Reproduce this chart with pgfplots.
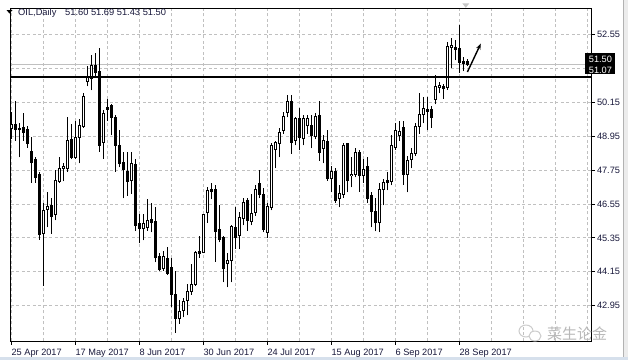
\documentclass[border=0pt]{standalone}
\usepackage{pgfplots}
\pgfplotsset{compat=1.18}
\usepackage{pgfplotstable}
\usepackage{fontspec}
\setmainfont{Liberation Sans}
\newfontfamily\cjk{Noto Sans CJK SC}
\usetikzlibrary{arrows.meta}
\pgfdeclarelayer{bg}
\pgfsetlayers{bg,main}
\definecolor{gridc}{RGB}{192,192,192}
\definecolor{lab}{RGB}{25,25,60}
\definecolor{framegray}{RGB}{236,236,236}
\definecolor{frameblue}{RGB}{214,224,236}

% bullish (white) candles: index, open, high, low, close
\pgfplotstableread{
i O H L C
0 49.23 49.83 48.87 49.37
8 45.50 46.57 43.66 46.32
9 46.36 46.96 45.72 46.46
11 46.18 47.77 45.97 47.38
12 47.35 48.23 47.31 47.81
13 47.81 47.99 47.35 47.88
14 47.81 49.65 47.70 48.80
16 48.20 49.51 48.16 48.91
17 48.91 49.58 47.99 49.33
18 49.30 50.50 49.26 50.36
19 50.90 51.43 50.72 51.04
20 51.00 51.82 50.58 51.46
23 48.73 49.87 48.16 49.76
30 47.38 48.38 46.92 47.99
33 45.68 46.18 45.26 45.86
34 45.72 46.71 45.61 45.97
38 44.26 44.90 44.19 44.69
42 42.49 43.13 42.31 42.74
43 42.77 43.20 42.53 43.09
44 43.13 43.70 42.60 43.45
45 43.45 44.44 43.34 43.70
46 43.70 44.87 43.66 44.83
48 44.83 46.21 44.80 46.18
49 46.25 47.14 45.89 47.03
54 44.44 44.83 43.59 44.55
55 44.55 45.79 43.77 45.75
57 45.43 46.28 44.94 46.07
58 46.04 46.75 45.79 46.60
60 45.93 46.92 45.79 46.21
61 46.25 47.24 46.14 47.07
64 45.54 46.57 45.36 46.46
65 46.43 48.73 46.32 48.63
66 48.48 48.80 47.81 48.73
67 48.70 49.23 48.20 49.09
68 49.16 49.80 49.05 49.65
69 49.80 50.40 49.62 50.19
71 48.80 49.65 48.63 49.58
73 48.87 49.69 48.63 49.58
74 49.33 49.69 49.05 49.58
76 48.95 49.76 48.84 49.65
78 48.52 48.98 47.99 48.80
80 47.45 47.88 46.96 47.70
82 46.75 47.21 46.43 46.92
83 46.89 48.73 46.78 48.63
85 47.56 48.20 47.14 47.60
86 47.60 48.52 47.49 48.38
88 47.56 48.16 47.31 47.77
92 45.89 47.28 45.54 47.07
93 47.07 47.45 46.50 47.31
95 47.35 48.98 47.21 48.63
96 48.55 49.41 48.48 49.16
97 48.98 49.51 48.80 49.12
99 47.60 48.27 46.96 48.09
100 48.13 48.52 47.81 48.34
101 48.34 49.41 48.27 49.30
102 49.30 50.50 49.05 49.72
103 49.72 50.33 49.41 49.94
106 50.26 51.11 50.08 50.72
107 50.68 50.86 50.47 50.75
109 50.68 52.28 50.61 52.14
110 52.10 52.42 51.39 52.17
}\bull

% bearish (black) candles: index, open, high, low, close
\pgfplotstableread{
i O H L C
1 49.37 50.19 48.80 49.19
2 49.24 49.44 48.20 49.19
3 49.26 49.76 48.80 49.09
4 49.19 49.33 48.55 48.70
5 48.41 48.91 47.31 48.02
6 48.13 48.23 47.31 47.49
7 47.60 47.67 45.29 45.47
10 46.50 46.78 45.50 46.11
15 48.84 49.37 48.13 48.20
21 51.46 51.92 51.04 51.21
22 51.25 52.07 48.41 48.63
24 49.97 50.29 49.51 49.90
25 50.04 50.08 48.98 49.62
26 49.62 49.72 47.70 48.63
27 48.63 49.16 47.85 47.99
28 48.02 48.41 46.75 47.77
29 47.70 48.41 46.85 47.35
31 47.95 48.16 45.61 45.79
32 45.86 46.18 45.15 45.68
35 46.00 46.57 45.54 45.89
36 45.93 46.43 44.48 44.65
37 44.69 44.80 44.19 44.23
39 44.62 45.01 44.05 44.09
40 44.30 44.65 42.88 43.34
41 43.34 44.19 41.99 42.49
47 44.87 45.43 44.65 44.80
50 47.07 47.31 46.71 46.99
51 47.07 47.24 44.51 45.58
52 45.65 46.53 45.19 45.29
53 45.36 45.40 43.77 44.26
56 45.72 46.46 44.97 45.36
59 46.68 46.75 45.61 45.97
62 47.28 47.74 46.75 46.89
63 46.89 47.10 45.54 45.65
70 50.19 50.40 48.34 48.73
72 49.58 49.97 48.45 48.91
75 49.33 49.69 48.52 48.98
77 49.69 50.22 48.09 48.38
79 48.77 49.16 47.38 47.45
81 47.70 47.81 46.60 46.68
84 48.70 48.73 46.96 47.38
87 48.38 48.45 46.99 47.56
89 47.88 48.20 46.60 46.75
90 46.85 46.99 45.72 46.28
91 46.28 46.75 45.58 45.89
94 47.38 47.67 47.03 47.31
98 49.26 49.51 47.24 47.60
104 49.90 50.33 49.16 49.83
105 49.90 50.04 49.26 49.62
108 50.72 50.82 50.29 50.65
111 52.10 52.35 51.64 52.03
112 52.07 52.88 51.21 51.57
113 51.60 51.75 51.25 51.53
114 51.60 51.69 51.43 51.50
}\bear

\pgfplotsset{
  candlepart/.style 2 args={draw=none, mark=none, forget plot,
    error bars/.cd, y dir=plus, y explicit, error mark=none,
    error bar style={draw=#1, line width=#2}},
}

\begin{document}
\begin{tikzpicture}[x=1bp,y=1bp]
\begin{axis}[
  at={(2.7,-3)}, anchor=north west, scale only axis,
  width=580.3bp, height=332.5bp,
  xmin=-0.15, xmax=144.925, ymin=41.693, ymax=53.484,
  axis background/.style={fill=white},
  axis line style={black, line width=0.9bp},
  xtick={0,16,...,112},
  xticklabels={25 Apr 2017,17 May 2017,8 Jun 2017,30 Jun 2017,24 Jul 2017,15 Aug 2017,6 Sep 2017,28 Sep 2017},
  minor xtick={8,24,40,56,72,88,104,120,128,136,144},
  ytick={42.95,44.15,45.35,46.55,47.75,48.95,50.15,51.35,52.55},
  yticklabels={42.95,44.15,45.35,46.55,47.75,48.95,50.15,,52.55},
  xtick pos=bottom, ytick pos=right, yticklabel pos=right,
  tick align=outside, major tick length=4bp, minor tick length=0pt,
  tick style={black, line width=0.8bp},
  xmajorgrids, xminorgrids, ymajorgrids,
  major grid style={gridc, dash pattern=on 3bp off 2.5bp, line width=0.8bp},
  minor grid style={gridc, dash pattern=on 3bp off 2.5bp, line width=0.8bp},
  ticklabel style={font=\fontsize{9.2bp}{11bp}\selectfont, text=lab},
  xticklabel style={anchor=north west, inner sep=0pt, yshift=-3.5bp},
  yticklabel style={anchor=west, inner sep=0pt, xshift=1.7bp},
]
% bid line
\addplot[gridc, line width=1bp, forget plot] coordinates {(-0.15,51.50) (144.925,51.50)};
% wicks
\addplot[candlepart={black}{1bp}]
  table[x=i, y=L, y error plus expr={\thisrow{H}-\thisrow{L}}] {\bull};
\addplot[candlepart={black}{1bp}]
  table[x=i, y=L, y error plus expr={\thisrow{H}-\thisrow{L}}] {\bear};
% bearish bodies
\addplot[candlepart={black}{3.2bp}]
  table[x=i, y expr={min(\thisrow{O},\thisrow{C})-0.016}, y error plus expr={abs(\thisrow{O}-\thisrow{C})+0.032}] {\bear};
% bullish bodies: outline then white inside
\addplot[candlepart={black}{3.2bp}]
  table[x=i, y expr={min(\thisrow{O},\thisrow{C})-0.016}, y error plus expr={abs(\thisrow{O}-\thisrow{C})+0.032}] {\bull};
\addplot[candlepart={white}{1.4bp}]
  table[x=i, y expr={min(\thisrow{O},\thisrow{C})+0.016}, y error plus expr={max(abs(\thisrow{O}-\thisrow{C})-0.032,0)}] {\bull};
% horizontal level
\addplot[black, line width=2bp, forget plot] coordinates {(-0.15,51.07) (144.925,51.07)};
% arrow
\addplot[black, line width=1.4bp, -{Stealth[length=6bp,width=4.5bp]}, forget plot] coordinates {(114.0,51.232) (117.35,52.239)};
\end{axis}
\pgfresetboundingbox
\useasboundingbox (0,-360) rectangle (628,0);
\begin{pgfonlayer}{bg}
\fill[white] (0,-360) rectangle (628,0);
\end{pgfonlayer}
% header
\fill[black] (6.5,-10) -- (12.5,-10) -- (9.5,-13.5) -- cycle;
\node[anchor=base west, inner sep=0pt, text=lab, font=\fontsize{9.3bp}{11bp}\selectfont] at (18,-15) {OIL,Daily};
\node[anchor=base west, inner sep=0pt, text=lab, font=\fontsize{9.3bp}{11bp}\selectfont] at (65,-15) {51.60 51.69 51.43 51.50};
% price boxes
\fill[black] (585,-53.3) rectangle (615,-64);
\fill[black] (585,-64.3) rectangle (615,-74);
\node[anchor=base west, inner sep=0pt, text=white, font=\fontsize{9.2bp}{11bp}\selectfont] at (588.7,-62.3) {51.50};
\node[anchor=base west, inner sep=0pt, text=white, font=\fontsize{9.2bp}{11bp}\selectfont] at (588.7,-73.3) {51.07};
% shift marker
\fill[gray!45] (462.3,-3.3) -- (469.3,-3.3) -- (465.8,-7.8) -- cycle;
% watermark
\draw[gray!40, line width=1bp] (526,-331) ellipse (7 and 6);
\draw[gray!40, line width=1bp, fill=white] (535,-336) ellipse (6 and 5);
\node[anchor=west, inner sep=0pt, text=gray!55, font=\cjk\fontsize{15bp}{16bp}\selectfont] at (547,-333.5) {菜生论金};
% window frame
\fill[framegray] (623,-360) rectangle (628,0);
\draw[gray!60, line width=0.8bp] (623.4,0) -- (623.4,-360);
\fill[frameblue] (0,-360) rectangle (628,-357);
\end{tikzpicture}
\end{document}
